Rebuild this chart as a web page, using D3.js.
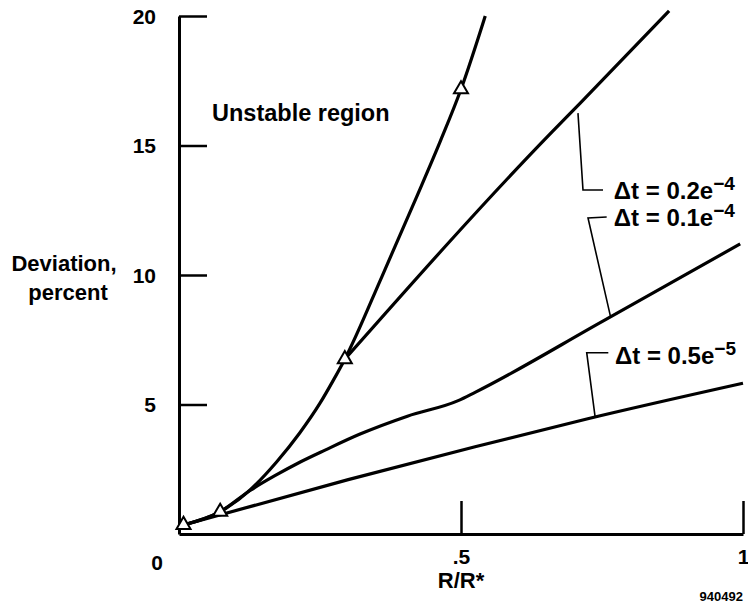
<!DOCTYPE html>
<html>
<head>
<meta charset="utf-8">
<script src="https://cdn.jsdelivr.net/npm/d3@7"></script>
<style>
  body { margin: 0; background: #fff; }
  text { font-family: "Liberation Sans", Arial, Helvetica, sans-serif; font-weight: bold; fill: #000; }
</style>
</head>
<body>
<div id="chart"></div>
<script>
// values (x = R/R*, y = deviation in percent)
var unstableX = [0.008, 0.073, 0.126, 0.173, 0.214, 0.25, 0.274, 0.294, 0.36, 0.42, 0.463, 0.5, 0.543];
var unstableY = [0.35, 0.86, 1.70, 2.78, 3.90, 5.05, 5.95, 6.75, 9.95, 12.95, 15.15, 17.17, 20.0];

var dt2X = [0.294, 0.658, 0.711, 0.869];
var dt2Y = [6.75, 15.45, 16.63, 20.2];

var dt1X = [0.008, 0.073, 0.126, 0.17, 0.215, 0.26, 0.32, 0.405, 0.495, 0.525, 0.75, 0.995];
var dt1Y = [0.35, 0.86, 1.68, 2.25, 2.78, 3.25, 3.85, 4.55, 5.15, 5.47, 8.2, 11.2];

var dt05X = [0.008, 0.3, 0.525, 0.723, 1.0];
var dt05Y = [0.35, 2.1, 3.37, 4.44, 5.82];

// triangle markers on the stability boundary
var markerX = [0.008, 0.073, 0.294, 0.5];
var markerY = [0.35, 0.86, 6.75, 17.17];

var yTicks = [5, 10, 15, 20];
var xTicks = [0.5, 1];
var xTickLabels = [".5", "1"];

// curve labels: text, exponent, leader polyline (data units)
var labelText = ["\u0394t = 0.2e", "\u0394t = 0.1e", "\u0394t = 0.5e"];
var labelExp = ["\u22124", "\u22124", "\u22125"];
var labelPos = [[0.771, 12.93], [0.771, 11.9], [0.773, 6.56]];
var leaders = [
    [[0.7074, 16.25], [0.7163, 13.28], [0.7518, 13.28]],
    [[0.7583, 12.24], [0.7252, 12.2], [0.765, 8.4]],
    [[0.7612, 7.0], [0.7229, 7.0], [0.7376, 4.55]]
];

var width = 748, height = 609;
var svg = d3.select("#chart").append("svg")
    .attr("width", width)
    .attr("height", height);

var x = d3.scaleLinear().domain([0, 1]).range([179, 743]);
var y = d3.scaleLinear().domain([0, 20]).range([534, 16]);

// axes
var yAxis = d3.axisLeft(y)
    .tickValues(yTicks)
    .tickSizeInner(-28)
    .tickSizeOuter(0)
    .tickPadding(23)
    .tickFormat(d3.format("d"));
var gy = svg.append("g").attr("transform", "translate(" + x(0) + ",0)").call(yAxis);

var xAxis = d3.axisBottom(x)
    .tickValues(xTicks)
    .tickSizeInner(-33)
    .tickSizeOuter(0)
    .tickPadding(15)
    .tickFormat(function (d, i) { return xTickLabels[i]; });
var gx = svg.append("g").attr("transform", "translate(0," + y(0) + ")").call(xAxis);

[gx, gy].forEach(function (g) {
    g.select(".domain").attr("stroke", "#000").attr("stroke-width", 3);
    g.selectAll(".tick line").attr("stroke", "#000").attr("stroke-width", 2.5);
    g.selectAll(".tick text")
        .style("font-family", "'Liberation Sans', Arial, sans-serif")
        .style("font-weight", "bold")
        .style("font-size", "21px");
});
gy.selectAll(".tick text").attr("dy", "0.35em");

svg.append("text")
    .attr("x", 157).attr("y", 570)
    .attr("text-anchor", "middle")
    .style("font-size", "21px")
    .text("0");

// axis titles
svg.append("text")
    .attr("x", x(0.5)).attr("y", 588)
    .attr("text-anchor", "middle")
    .style("font-size", "22px")
    .text("R/R*");

var ytitle = svg.append("text")
    .attr("text-anchor", "middle")
    .style("font-size", "22px");
ytitle.append("tspan").attr("x", 64).attr("y", 271).text("Deviation,");
ytitle.append("tspan").attr("x", 68).attr("y", 300).text("percent");

svg.append("text")
    .attr("x", 212).attr("y", 121)
    .style("font-size", "23.5px")
    .text("Unstable region");

svg.append("text")
    .attr("x", 743).attr("y", 601)
    .attr("text-anchor", "end")
    .style("font-size", "13px")
    .text("940492");

// curves
var line = d3.line()
    .x(function (d) { return x(d[0]); })
    .y(function (d) { return y(d[1]); })
    .curve(d3.curveMonotoneX);

function pairs(xs, ys) {
    return xs.map(function (v, i) { return [v, ys[i]]; });
}

var series = [
    pairs(unstableX, unstableY),
    pairs(dt2X, dt2Y),
    pairs(dt1X, dt1Y),
    pairs(dt05X, dt05Y)
];

svg.append("g").selectAll("path")
    .data(series)
    .enter().append("path")
    .attr("d", line)
    .attr("fill", "none")
    .attr("stroke", "#000")
    .attr("stroke-width", 3.2)
    .attr("stroke-linejoin", "round");

// leaders
var leaderLine = d3.line()
    .x(function (d) { return x(d[0]); })
    .y(function (d) { return y(d[1]); });

svg.append("g").selectAll("path")
    .data(leaders)
    .enter().append("path")
    .attr("d", leaderLine)
    .attr("fill", "none")
    .attr("stroke", "#000")
    .attr("stroke-width", 1.6);

var labels = svg.append("g").selectAll("text")
    .data(labelText)
    .enter().append("text")
    .attr("x", function (d, i) { return x(labelPos[i][0]); })
    .attr("y", function (d, i) { return y(labelPos[i][1]); })
    .style("font-size", "24px");
labels.append("tspan").text(function (d) { return d; });
labels.append("tspan")
    .attr("dy", -9)
    .style("font-size", "19px")
    .text(function (d, i) { return labelExp[i]; });

// markers
svg.append("g").selectAll("path")
    .data(pairs(markerX, markerY))
    .enter().append("path")
    .attr("transform", function (d) { return "translate(" + x(d[0]) + "," + y(d[1]) + ")"; })
    .attr("d", d3.symbol().type(d3.symbolTriangle).size(85))
    .attr("fill", "#fff")
    .attr("stroke", "#000")
    .attr("stroke-width", 2);
</script>
</body>
</html>
